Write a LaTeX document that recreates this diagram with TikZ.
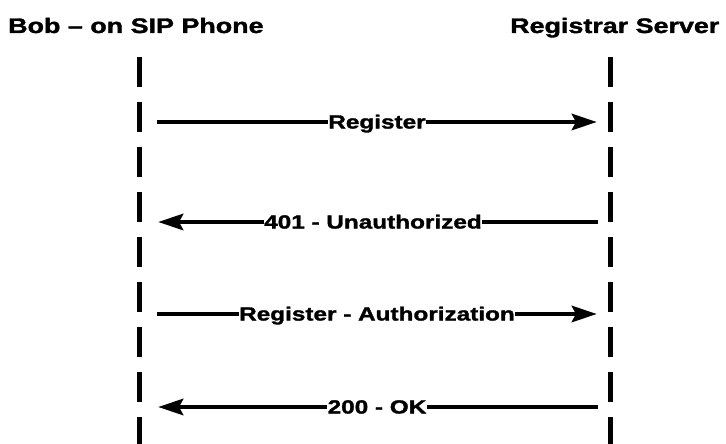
\documentclass[tikz,border=0pt]{standalone}
\usepackage{fontspec}
\setmainfont{Liberation Sans}
\newfontfamily\widebold[FakeStretch=1.28,FakeBold=1.6]{Liberation Sans Bold}
\usetikzlibrary{arrows.meta}

\tikzset{
  head/.style={font=\widebold\fontsize{21}{24}\selectfont, inner sep=0pt, anchor=base west},
  lifeline/.style={line width=5pt, dash pattern=on 30pt off 15pt},
  msg/.style={line width=4.8pt, -{Stealth[length=25pt,width=16pt,inset=4pt]}},
  msglabel/.style={font=\widebold\fontsize{19}{22}\selectfont, fill=white, inner xsep=0.5pt, inner ysep=1pt, anchor=base}
}

\begin{document}
\begin{tikzpicture}[x=1pt,y=-1pt]
  \useasboundingbox (0,0) rectangle (726,444);
  \fill[white] (0,0) rectangle (726,444);

  % participants
  \node[head] (bob) at (8,33) {Bob – on SIP Phone};
  \node[head] (srv) at (510,33) {Registrar Server};

  % lifelines
  \coordinate (bobtop) at (139.5,57);
  \coordinate (bobend) at (139.5,444);
  \coordinate (srvtop) at (610,57);
  \coordinate (srvend) at (610,444);
  \draw[lifeline] (bobtop) -- (bobend);
  \draw[lifeline] (srvtop) -- (srvend);

  % message end points
  \coordinate (b1) at (157,122);  \coordinate (s1) at (597,122);
  \coordinate (b2) at (158,222);  \coordinate (s2) at (598,222);
  \coordinate (b3) at (157,314);  \coordinate (s3) at (597,314);
  \coordinate (b4) at (158,407);  \coordinate (s4) at (598,407);

  % messages
  \draw[msg] (b1) -- (s1);
  \draw[msg] (s2) -- (b2);
  \draw[msg] (b3) -- (s3);
  \draw[msg] (s4) -- (b4);

  % message labels
  \node[msglabel] (m1) at (377,128.5) {Register};
  \node[msglabel] (m2) at (373,228.5) {401 - Unauthorized};
  \node[msglabel] (m3) at (377,320.5) {Register - Authorization};
  \node[msglabel] (m4) at (377,413.5) {200 - OK};
\end{tikzpicture}
\end{document}
